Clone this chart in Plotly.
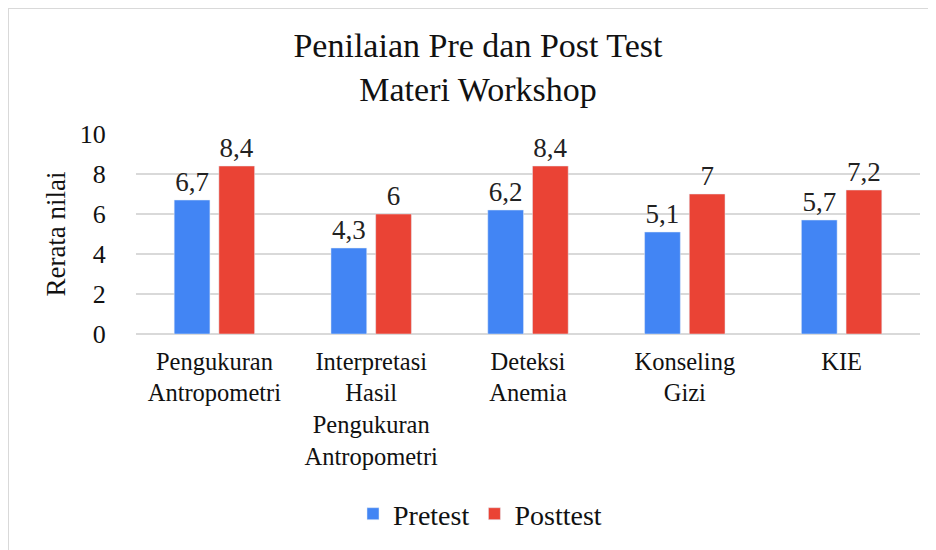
import plotly.graph_objects as go

categories = [
    "Pengukuran<br>Antropometri",
    "Interpretasi<br>Hasil<br>Pengukuran<br>Antropometri",
    "Deteksi<br>Anemia",
    "Konseling<br>Gizi",
    "KIE",
]
pretest = [6.7, 4.3, 6.2, 5.1, 5.7]
posttest = [8.4, 6.0, 8.4, 7.0, 7.2]
pretest_labels = ["6,7", "4,3", "6,2", "5,1", "5,7"]
posttest_labels = ["8,4", "6", "8,4", "7", "7,2"]
y_ticks = [0, 2, 4, 6, 8, 10]

FONT = "Liberation Serif"
OFF = 8  # page body margin
W, H = 936 - OFF, 550 - OFF
ML, MR, MT, MB = 136 - OFF, 16, 134 - OFF, 216

fig = go.Figure()
fig.add_trace(go.Bar(
    name="Pretest", x=categories, y=pretest, text=pretest_labels,
    textposition="outside", marker_color="#4285F4",
    textfont=dict(family=FONT, size=27, color="#222"), cliponaxis=False,
))
fig.add_trace(go.Bar(
    name="Posttest", x=categories, y=posttest, text=posttest_labels,
    textposition="outside", marker_color="#EA4335",
    textfont=dict(family=FONT, size=27, color="#222"), cliponaxis=False,
))

pw = W - ML - MR
ph = H - MT - MB
def px2x(px):
    return (px - OFF - ML) / pw
def py2y(py):
    return (H - MB - (py - OFF)) / ph

fig.update_layout(
    width=W, height=H,
    margin=dict(l=ML, r=MR, t=MT, b=MB, autoexpand=False),
    paper_bgcolor="white", plot_bgcolor="white",
    font=dict(family=FONT, size=26, color="#111"),
    title=dict(
        text="Penilaian Pre dan Post Test<br>Materi Workshop",
        x=(478 - OFF) / W, xanchor="center", y=1 - (57 - OFF) / H, yanchor="middle",
        font=dict(family=FONT, size=34, color="#111"),
    ),
    barmode="group", bargap=0.43, bargroupgap=0.2,
    legend=dict(
        orientation="h", x=px2x(480), xanchor="center", y=py2y(514), yanchor="middle",
        font=dict(family=FONT, size=28, color="#111"),
        traceorder="normal",
    ),
    shapes=[
        dict(type="line", xref="paper", yref="paper",
             x0=px2x(OFF), x1=px2x(936), y0=py2y(OFF), y1=py2y(OFF),
             line=dict(color="#d9d9d9", width=2)),
        dict(type="line", xref="paper", yref="paper",
             x0=px2x(OFF), x1=px2x(OFF), y0=py2y(OFF), y1=py2y(550),
             line=dict(color="#d9d9d9", width=2)),
    ],
)
fig.update_xaxes(
    showline=False, showgrid=False, ticks="", automargin=False,
    ticklabelstandoff=10,
    tickfont=dict(family=FONT, size=24.5, color="#111"),
)
fig.update_yaxes(
    range=[0, 10], tickvals=y_ticks, showgrid=True, gridcolor="#d9d9d9", gridwidth=2,
    zeroline=True, zerolinecolor="#d9d9d9", zerolinewidth=2, showline=False,
    ticks="outside", ticklen=24, tickcolor="white", automargin=False,
    tickfont=dict(family=FONT, size=26, color="#111"),
    title=dict(text="Rerata nilai", font=dict(family=FONT, size=27, color="#111"), standoff=6),
)

fig.write_html("out.html")
